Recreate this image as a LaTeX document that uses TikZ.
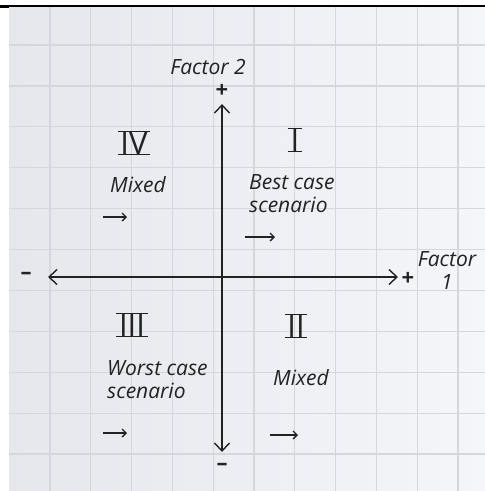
\documentclass[tikz,border=0pt]{standalone}
\usepackage{fontspec}
\setmainfont{Open Sans}
\usetikzlibrary{arrows.meta}
\definecolor{ink}{HTML}{222222}
\definecolor{paperL}{HTML}{E6E7EC}
\definecolor{paperR}{HTML}{F5F6FA}
\definecolor{gridc}{HTML}{D6D7DD}
\tikzset{
  hand/.style={text=ink, font=\itshape\fontsize{21}{23}\selectfont, inner sep=0pt},
  roman/.style={text=ink, font=\fontsize{31}{31}\selectfont, inner sep=0.5pt},
  sign/.style={text=ink, font=\bfseries\fontsize{22}{22}\selectfont, inner sep=0pt},
  axis/.style={draw=ink, line width=1.5pt, {Straight Barb[length=8pt,width=15pt,line width=1.4pt]}-{Straight Barb[length=8pt,width=15pt,line width=1.4pt]}},
  small arrow/.style={draw=ink, line width=1.4pt, -{Straight Barb[length=4pt,width=8pt,line width=1.3pt]}},
  bar/.style={draw=ink, line width=1.4pt}
}
\begin{document}
\begin{tikzpicture}[x=1pt,y=-1pt]
\useasboundingbox (0,0) rectangle (485,491);
% paper
\shade[left color=paperL, right color=paperR] (9,7) rectangle (485,491);
\foreach \k in {0,...,10} {
  \draw[gridc, line width=1.2pt] ({50+40.8*\k},7) -- ({50+40.8*\k},491);
  \draw[gridc, line width=1.2pt] (9,{45+40.9*\k}) -- (485,{45+40.9*\k});
}
\draw[black, line width=1.4pt] (0,6) -- (485,6);
\draw[black, line width=2.6pt] (0,6.5) -- (9,6.5);
% axes
\coordinate (top) at (222,104);
\coordinate (bottom) at (222,452);
\coordinate (left) at (48,277);
\coordinate (right) at (398,277);
\draw[axis] (bottom) -- (top);
\draw[axis] (left) -- (right);
% axis labels
\node[hand] (f2) at (208,67) {Factor 2};
\node[sign] (ptop) at (222,91) {+};
\node[sign] (mbot) at (222,467) {–};
\node[sign] (mleft) at (26,276) {–};
\node[sign] (pright) at (408,279) {+};
\node[hand, align=center] (f1) at (447,270) {Factor\\1};
% quadrant numerals
\node[roman] (q1) at (295,140) {I};
\node[roman] (q2) at (296,326) {II};
\node[roman] (q3) at (132,325) {III};
\node[roman] (q4) at (134,143) {IV};
\foreach \q in {q1,q2,q3,q4} {
  \draw[bar] ([xshift=-2pt]\q.north west) -- ([xshift=2pt]\q.north east);
  \draw[bar] ([xshift=-2pt]\q.south west) -- ([xshift=2pt]\q.south east);
}
% quadrant texts
\node[hand, anchor=west] (t4) at (110,185) {Mixed};
\node[hand, anchor=west, align=left] (t1) at (249,194) {Best case\\scenario};
\node[hand, anchor=west, align=left] (t3) at (107,380) {Worst case\\scenario};
\node[hand, anchor=west] (t2) at (273,378) {Mixed};
% small arrows
\coordinate (a4s) at (103,217); \coordinate (a4e) at (127,217);
\coordinate (a1s) at (245,237); \coordinate (a1e) at (275,237);
\coordinate (a3s) at (103,433); \coordinate (a3e) at (127,433);
\coordinate (a2s) at (270,435); \coordinate (a2e) at (298,435);
\draw[small arrow] (a4s) -- (a4e);
\draw[small arrow] (a1s) -- (a1e);
\draw[small arrow] (a3s) -- (a3e);
\draw[small arrow] (a2s) -- (a2e);
\end{tikzpicture}
\end{document}
